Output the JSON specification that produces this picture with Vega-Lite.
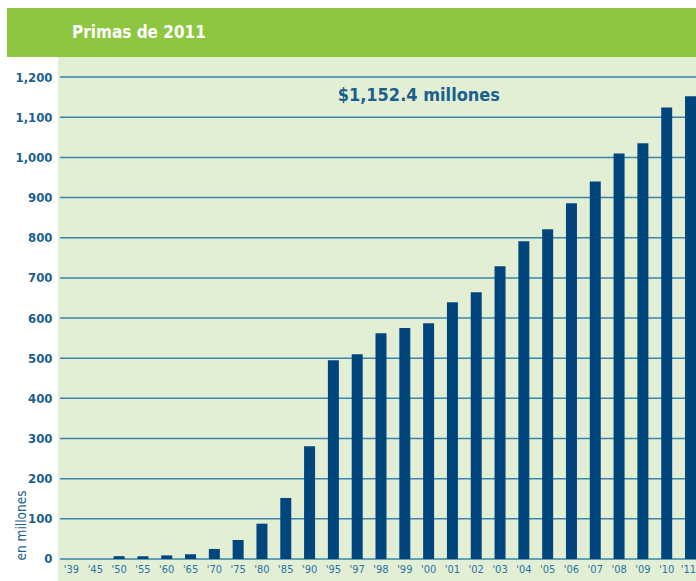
{
  "$schema": "https://vega.github.io/schema/vega-lite/v6.json",
  "padding": {"left": 7, "top": 8, "right": 0, "bottom": 0},
  "background": "white",
  "spacing": 0,
  "datasets": {
    "primas": [
      {"year": "'39", "value": 0},
      {"year": "'45", "value": 0},
      {"year": "'50", "value": 7},
      {"year": "'55", "value": 7},
      {"year": "'60", "value": 9},
      {"year": "'65", "value": 12},
      {"year": "'70", "value": 25},
      {"year": "'75", "value": 47},
      {"year": "'80", "value": 88},
      {"year": "'85", "value": 152},
      {"year": "'90", "value": 281},
      {"year": "'95", "value": 495},
      {"year": "'97", "value": 510},
      {"year": "'98", "value": 562},
      {"year": "'99", "value": 575},
      {"year": "'00", "value": 587},
      {"year": "'01", "value": 639},
      {"year": "'02", "value": 664},
      {"year": "'03", "value": 729},
      {"year": "'04", "value": 791},
      {"year": "'05", "value": 821},
      {"year": "'06", "value": 886},
      {"year": "'07", "value": 940},
      {"year": "'08", "value": 1010},
      {"year": "'09", "value": 1035},
      {"year": "'10", "value": 1124},
      {"year": "'11", "value": 1152.4}
    ],
    "ticks": [
      {"tick": 0}, {"tick": 100}, {"tick": 200}, {"tick": 300}, {"tick": 400},
      {"tick": 500}, {"tick": 600}, {"tick": 700}, {"tick": 800}, {"tick": 900},
      {"tick": 1000}, {"tick": 1100}, {"tick": 1200}
    ]
  },
  "vconcat": [
    {
      "width": 689,
      "height": 49,
      "data": {"values": [{"header": "Primas de 2011"}]},
      "view": {"stroke": null},
      "layer": [
        {"mark": {"type": "rect", "color": "#8dc63f"}, "encoding": {}},
        {
          "mark": {
            "type": "text",
            "align": "left",
            "baseline": "middle",
            "dx": -279.5,
            "color": "white",
            "font": "DejaVu Sans Condensed, Roboto, sans-serif",
            "fontWeight": "bold",
            "fontSize": 17
          },
          "encoding": {"text": {"field": "header", "type": "nominal"}}
        }
      ]
    },
    {
      "width": 689,
      "height": 524,
      "view": {"fill": "white", "stroke": null},
      "layer": [
        {
          "data": {"values": [{"bg": "plot"}]},
          "mark": {"type": "rect", "color": "#e3efd5"},
          "encoding": {
            "x": {"datum": "'39", "type": "nominal", "bandPosition": -0.727},
            "x2": {"datum": "'11", "bandPosition": 1}
          }
        },
        {
          "data": {"name": "ticks"},
          "mark": {"type": "rule", "color": "#3a84aa", "strokeWidth": 1.5},
          "encoding": {
            "x": {"datum": "'39", "type": "nominal", "bandPosition": -0.545},
            "x2": {"datum": "'11", "bandPosition": 1},
            "y": {"field": "tick", "type": "quantitative", "title": "en millones"}
          }
        },
        {
          "data": {"name": "primas"},
          "mark": {"type": "bar", "color": "#00467c"},
          "encoding": {
            "x": {
              "field": "year",
              "type": "nominal",
              "sort": null,
              "scale": {
                "domain": ["'39", "'45", "'50", "'55", "'60", "'65", "'70", "'75", "'80", "'85", "'90", "'95", "'97", "'98", "'99", "'00", "'01", "'02", "'03", "'04", "'05", "'06", "'07", "'08", "'09", "'10", "'11"],
                "range": [59, 689],
                "paddingInner": 0.538,
                "paddingOuter": 0
              },
              "axis": {
                "title": null,
                "orient": "bottom",
                "offset": -12,
                "domain": false,
                "ticks": false,
                "tickSize": 0,
                "labelPadding": 0,
                "labelAngle": 0,
                "labelFont": "DejaVu Sans Condensed, Roboto, sans-serif",
                "labelFontSize": 11,
                "labelColor": "#2a72a3",
                "labelAlign": {"condition": {"test": "datum.label == \"'11\"", "value": "right"}, "value": "center"},
                "labelOffset": {"condition": {"test": "datum.label == \"'11\"", "value": 5.5}, "value": 0}
              }
            },
            "y": {
              "field": "value",
              "type": "quantitative",
              "title": "en millones",
              "scale": {"domain": [-54.8, 1250], "nice": false, "zero": false},
              "axis": {
                "orient": "left",
                "offset": -51,
                "values": [0, 100, 200, 300, 400, 500, 600, 700, 800, 900, 1000, 1100, 1200],
                "format": ",.0f",
                "domain": false,
                "ticks": false,
                "grid": false,
                "labelPadding": 6,
                "labelFont": "DejaVu Sans Condensed, Roboto, sans-serif",
                "labelFontWeight": "bold",
                "labelFontSize": 13,
                "labelColor": "#1b5f8e",
                "titleFont": "DejaVu Sans Condensed, Roboto, sans-serif",
                "titleFontWeight": "normal",
                "titleFontSize": 13.5,
                "titleColor": "#1b5f8e",
                "titleAngle": -90,
                "titleAlign": "center",
                "titleBaseline": "middle",
                "titleX": -37,
                "titleY": 468
              }
            },
            "y2": {"datum": 0}
          }
        },
        {
          "data": {"values": [{"note": "$1,152.4 millones"}]},
          "mark": {
            "type": "text",
            "font": "DejaVu Sans Condensed, Roboto, sans-serif",
            "fontWeight": "bold",
            "fontSize": 18,
            "color": "#1b5f8e",
            "align": "center",
            "baseline": "middle",
            "dx": 14
          },
          "encoding": {
            "text": {"field": "note", "type": "nominal"},
            "x": {"datum": "'99", "type": "nominal"},
            "y": {"datum": 1152.4, "type": "quantitative"}
          }
        }
      ]
    }
  ]
}
